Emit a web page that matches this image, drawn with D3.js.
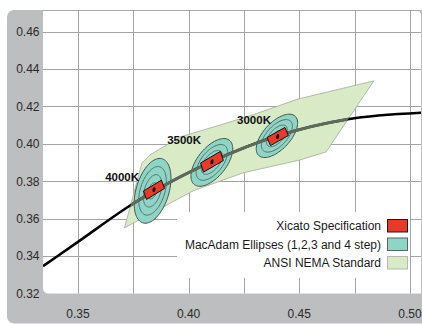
<!DOCTYPE html>
<html>
<head>
<meta charset="utf-8">
<script src="https://cdn.jsdelivr.net/npm/d3@7"></script>
<style>
body { margin: 0; background: #fff; }
svg { display: block; font-family: "Liberation Sans", Arial, Helvetica, sans-serif; }
</style>
</head>
<body>
<div id="chart"></div>
<script>
// axis ticks
var xTicks = [0.35, 0.40, 0.45, 0.50];
var xGrid = [0.35, 0.375, 0.40, 0.425, 0.45, 0.475, 0.50];
var yTicks = [0.32, 0.34, 0.36, 0.38, 0.40, 0.42, 0.44, 0.46];

// black body locus
var locusX = [0.3342, 0.3500, 0.3743, 0.3840, 0.4104, 0.4402, 0.4719, 0.5054];
var locusY = [0.3346, 0.3476, 0.3676, 0.3745, 0.3905, 0.4043, 0.4132, 0.4167];

// ANSI NEMA band outline
var nemaX = [0.3710, 0.3789, 0.3825, 0.3961, 0.4142, 0.4277, 0.4494, 0.4837, 0.4621, 0.4503, 0.4246, 0.4020, 0.3870];
var nemaY = [0.3551, 0.3898, 0.3941, 0.4037, 0.4101, 0.4150, 0.4240, 0.4337, 0.3957, 0.3914, 0.3845, 0.3749, 0.3653];

// CCT points
var cctNames = ['4000K', '3500K', '3000K'];
var labelX = [0.3776, 0.4056, 0.4372];
var labelY = [0.3802, 0.3997, 0.4104];

// MacAdam ellipses, 4 step size
var ellipseX = [0.3837, 0.4105, 0.4399];
var ellipseY = [0.3749, 0.3901, 0.4043];
var ellipseA = [0.0177, 0.0143, 0.0134];
var ellipseB = [0.0075, 0.0069, 0.0065];
var ellipseAngle = [77, 59, 55];
var macAdamSteps = [4, 3, 2, 1];

// Xicato specification quadrangles
var xicatoX = [
    [0.3796, 0.3877, 0.3891, 0.3810],
    [0.4054, 0.4144, 0.4157, 0.4067],
    [0.4354, 0.4435, 0.4451, 0.4370]
];
var xicatoY = [
    [0.3748, 0.3806, 0.3762, 0.3703],
    [0.3898, 0.3960, 0.3911, 0.3849],
    [0.4034, 0.4088, 0.4045, 0.3991]
];

var legendNames = ['Xicato Specification', 'MacAdam Ellipses (1,2,3 and 4 step)', 'ANSI NEMA Standard'];
var legendFill = ['#e8392a', '#8fd4c5', '#d8eac6'];
var legendStroke = ['#1a1a1a', '#5a6663', '#b5b8b2'];

var width = 422, height = 325;
var plot = { left: 43, right: 421, top: 10, bottom: 293.5 };

var svg = d3.select('#chart').append('svg')
    .attr('width', width)
    .attr('height', height);

var x = d3.scaleLinear().domain([0.3342, 0.505]).range([plot.left, plot.right]);
var y = d3.scaleLinear().domain([0.32, 0.4716]).range([plot.bottom, plot.top]);

// gray frame
svg.append('rect')
    .attr('x', 7).attr('y', 10)
    .attr('width', 440).attr('height', 313.5)
    .attr('rx', 7)
    .attr('fill', '#bdbec0');

// white plot area
svg.append('path')
    .attr('d', 'M' + plot.left + ',' + plot.top +
        'H' + (plot.right - 4) + 'Q' + plot.right + ',' + plot.top + ' ' + plot.right + ',' + (plot.top + 4) +
        'V' + plot.bottom + 'H' + (plot.left + 6) +
        'Q' + plot.left + ',' + plot.bottom + ' ' + plot.left + ',' + (plot.bottom - 6) + 'Z')
    .attr('fill', '#fff');

svg.append('path')
    .attr('d', 'M' + plot.left + ',' + (plot.top + 0.5) + 'H' + (plot.right - 3) +
        'Q' + plot.right + ',' + (plot.top + 0.5) + ' ' + plot.right + ',' + (plot.top + 3))
    .attr('fill', 'none')
    .attr('stroke', '#a8a8a8')
    .attr('stroke-width', 1);

svg.append('clipPath').attr('id', 'plotClip')
    .append('rect')
    .attr('x', plot.left).attr('y', plot.top)
    .attr('width', plot.right - plot.left).attr('height', plot.bottom - plot.top);

// grid
var grid = svg.append('g').attr('stroke', '#a4a4a4').attr('stroke-width', 1);
grid.selectAll('line.gx').data(xGrid).enter().append('line')
    .attr('x1', function (d) { return Math.round(x(d)) + 0.5; })
    .attr('x2', function (d) { return Math.round(x(d)) + 0.5; })
    .attr('y1', plot.top).attr('y2', plot.bottom);
grid.selectAll('line.gy').data(yTicks.slice(1)).enter().append('line')
    .attr('y1', function (d) { return Math.round(y(d)) + 0.5; })
    .attr('y2', function (d) { return Math.round(y(d)) + 0.5; })
    .attr('x1', plot.left).attr('x2', plot.right);

// tick labels
svg.append('g').selectAll('text').data(yTicks).enter().append('text')
    .attr('x', 39.5)
    .attr('y', function (d) { return y(d); })
    .attr('dy', '0.36em')
    .attr('text-anchor', 'end')
    .attr('font-size', 12)
    .attr('fill', '#2a2a2a')
    .text(function (d) { return d3.format('.2f')(d); });

svg.append('g').selectAll('text').data(xTicks).enter().append('text')
    .attr('x', function (d) { return x(d); })
    .attr('y', 318)
    .attr('text-anchor', 'middle')
    .attr('font-size', 12)
    .attr('fill', '#2a2a2a')
    .text(function (d) { return d3.format('.2f')(d); });

// legend box hides the grid
var legend = svg.append('g');
legend.append('rect')
    .attr('x', 177).attr('y', 212)
    .attr('width', 233).attr('height', 66)
    .attr('fill', '#fff');
var item = legend.selectAll('g.item').data(legendNames).enter().append('g')
    .attr('transform', function (d, i) { return 'translate(0,' + (219 + i * 18.5) + ')'; });
item.append('rect')
    .attr('x', 387.5).attr('y', 0.5)
    .attr('width', 20).attr('height', 12.5)
    .attr('fill', function (d, i) { return legendFill[i]; })
    .attr('stroke', function (d, i) { return legendStroke[i]; })
    .attr('stroke-width', 1);
item.append('text')
    .attr('x', 381).attr('y', 11)
    .attr('text-anchor', 'end')
    .attr('font-size', 12)
    .attr('fill', '#1a1a1a')
    .text(function (d) { return d; });

// chart body
var body = svg.append('g').attr('clip-path', 'url(#plotClip)');

var line = d3.line()
    .x(function (d) { return x(d[0]); })
    .y(function (d) { return y(d[1]); });

var nemaPts = nemaX.map(function (v, i) { return [v, nemaY[i]]; });
var locusPts = locusX.map(function (v, i) { return [v, locusY[i]]; });

svg.append('clipPath').attr('id', 'nemaClip')
    .append('path')
    .attr('d', line.curve(d3.curveLinearClosed)(nemaPts));

body.append('path')
    .attr('d', line.curve(d3.curveLinearClosed)(nemaPts))
    .attr('fill', '#d8eac6')
    .attr('stroke', '#a3ab9f')
    .attr('stroke-width', 0.8);

function ellipsePts(i, k) {
    var pts = [], th = ellipseAngle[i] * Math.PI / 180;
    for (var j = 0; j <= 90; j++) {
        var t = j / 90 * Math.PI * 2;
        var ex = ellipseA[i] * k * Math.cos(t), ey = ellipseB[i] * k * Math.sin(t);
        pts.push([ellipseX[i] + ex * Math.cos(th) - ey * Math.sin(th),
                  ellipseY[i] + ex * Math.sin(th) + ey * Math.cos(th)]);
    }
    return pts;
}

line.curve(d3.curveLinear);
cctNames.forEach(function (name, i) {
    var g = body.append('g');
    macAdamSteps.forEach(function (s) {
        g.append('path')
            .attr('d', line(ellipsePts(i, s / 4)))
            .attr('fill', s === 4 ? '#8fd4c5' : 'none')
            .attr('stroke', s === 4 ? '#3f5450' : '#4b6a64')
            .attr('stroke-width', s === 4 ? 1 : 0.9);
    });
});

// locus: black outside the band, grey inside
line.curve(d3.curveMonotoneX);
body.append('path')
    .attr('d', line(locusPts))
    .attr('fill', 'none')
    .attr('stroke', '#000')
    .attr('stroke-width', 2.6);
body.append('g').attr('clip-path', 'url(#nemaClip)')
    .append('path')
    .attr('d', line(locusPts))
    .attr('fill', 'none')
    .attr('stroke', '#5e6a5b')
    .attr('stroke-width', 3);

// Xicato quadrangles
line.curve(d3.curveLinearClosed);
cctNames.forEach(function (name, i) {
    var pts = xicatoX[i].map(function (v, j) { return [v, xicatoY[i][j]]; });
    body.append('path')
        .attr('d', line(pts))
        .attr('fill', '#e8392a')
        .attr('stroke', '#111')
        .attr('stroke-width', 1);
    var cx = d3.mean(xicatoX[i]), cy = d3.mean(xicatoY[i]);
    body.append('ellipse')
        .attr('cx', x(cx)).attr('cy', y(cy))
        .attr('rx', 1.5).attr('ry', 2.6)
        .attr('transform', 'rotate(15,' + x(cx) + ',' + y(cy) + ')')
        .attr('fill', '#111');
});

// CCT labels
svg.append('g').selectAll('text').data(cctNames).enter().append('text')
    .attr('x', function (d, i) { return x(labelX[i]); })
    .attr('y', function (d, i) { return y(labelY[i]); })
    .attr('text-anchor', 'end')
    .attr('font-size', 11.5)
    .attr('font-weight', 'bold')
    .attr('fill', '#111')
    .text(function (d) { return d; });
</script>
</body>
</html>
